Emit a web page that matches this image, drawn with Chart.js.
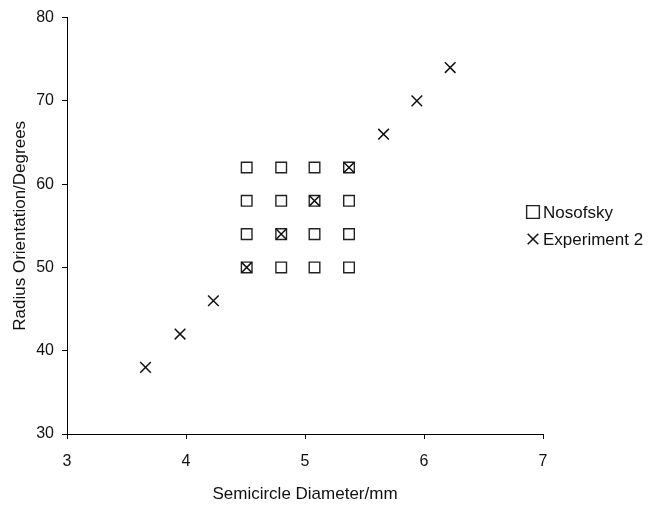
<!DOCTYPE html>
<html>
<head>
<meta charset="utf-8">
<script src="https://cdn.jsdelivr.net/npm/chart.js@4.4.1/dist/chart.umd.min.js"></script>
<style>
  html, body { margin: 0; padding: 0; background: #fff; }
  #wrap { width: 652px; height: 505px; position: relative; }
</style>
</head>
<body>
<div id="wrap"><canvas id="myChart"></canvas></div>
<script>
// Nosofsky stimulus grid (4 x 4)
const nosofskyDiam   = [4.51, 4.80, 5.08, 5.37, 4.51, 4.80, 5.08, 5.37, 4.51, 4.80, 5.08, 5.37, 4.51, 4.80, 5.08, 5.37];
const nosofskyOrient = [50, 50, 50, 50, 54, 54, 54, 54, 58, 58, 58, 58, 62, 62, 62, 62];

// Experiment 2 stimuli (diagonal)
const expDiam   = [3.66, 3.95, 4.23, 4.51, 4.80, 5.08, 5.37, 5.66, 5.94, 6.22];
const expOrient = [38, 42, 46, 50, 54, 58, 62, 66, 70, 74];

const seriesNames = ['Nosofsky', 'Experiment 2'];
const xTicks = [3, 4, 5, 6, 7];
const yTicks = [30, 40, 50, 60, 70, 80];

const toPts = (xs, ys) => xs.map((x, i) => ({ x: x, y: ys[i] }));

const ctx = document.getElementById('myChart');
const font = 'Liberation Sans, Arial, Helvetica, sans-serif';

// legend drawn on the canvas, right of the plot
const sideLegend = {
  id: 'sideLegend',
  afterDraw(chart) {
    const c = chart.ctx;
    const rows = [212, 239];
    c.save();
    c.font = '17px ' + font;
    c.textBaseline = 'middle';
    chart.data.datasets.forEach((ds, i) => {
      const y = rows[i];
      c.strokeStyle = ds.borderColor;
      c.fillStyle = '#fff';
      c.lineWidth = ds.borderWidth;
      Chart.helpers.drawPoint(c, { pointStyle: ds.pointStyle, radius: ds.legendRadius, rotation: 0, borderWidth: ds.borderWidth }, 533, y);
      c.fillStyle = '#111';
      c.fillText(ds.label, 543, y + 1);
    });
    c.restore();
  }
};

new Chart(ctx, {
  type: 'scatter',
  data: {
    datasets: [{
      label: seriesNames[0],
      data: toPts(nosofskyDiam, nosofskyOrient),
      pointStyle: 'rect',
      pointRadius: 7.5,
      legendRadius: 9,
      borderColor: '#222',
      backgroundColor: '#fff',
      borderWidth: 1.4,
      order: 2
    }, {
      label: seriesNames[1],
      data: toPts(expDiam, expOrient),
      pointStyle: 'crossRot',
      pointRadius: 7.5,
      legendRadius: 7.5,
      borderColor: '#111',
      backgroundColor: '#111',
      borderWidth: 1.5,
      order: 1
    }]
  },
  options: {
    responsive: true,
    maintainAspectRatio: false,
    animation: false,
    layout: { padding: { top: 14, right: 109, left: 0, bottom: 0 } },
    plugins: {
      legend: { display: false },
      tooltip: { enabled: false }
    },
    scales: {
      x: {
        type: 'linear',
        min: 3,
        max: 7,
        afterBuildTicks: s => { s.ticks = xTicks.map(v => ({ value: v })); },
        afterFit: s => { s.height = 71; },
        border: { display: true, color: '#000', width: 1 },
        grid: { drawOnChartArea: false, drawTicks: true, tickLength: 5, color: '#000' },
        ticks: { color: '#111', font: { family: font, size: 16 }, padding: 13 },
        title: { display: true, text: 'Semicircle Diameter/mm', color: '#111', font: { family: font, size: 17 }, padding: { top: 0, bottom: 0 } }
      },
      y: {
        type: 'linear',
        min: 30,
        max: 80,
        afterBuildTicks: s => { s.ticks = yTicks.map(v => ({ value: v })); },
        afterFit: s => { s.width = 67; },
        border: { display: true, color: '#000', width: 1 },
        grid: { drawOnChartArea: false, drawTicks: true, tickLength: 5, color: '#000' },
        ticks: { color: '#111', font: { family: font, size: 16 }, padding: 8 },
        title: { display: true, text: 'Radius Orientation/Degrees', color: '#111', font: { family: font, size: 17 }, padding: { top: 10, bottom: 0 } }
      }
    }
  },
  plugins: [sideLegend]
});
</script>
</body>
</html>
